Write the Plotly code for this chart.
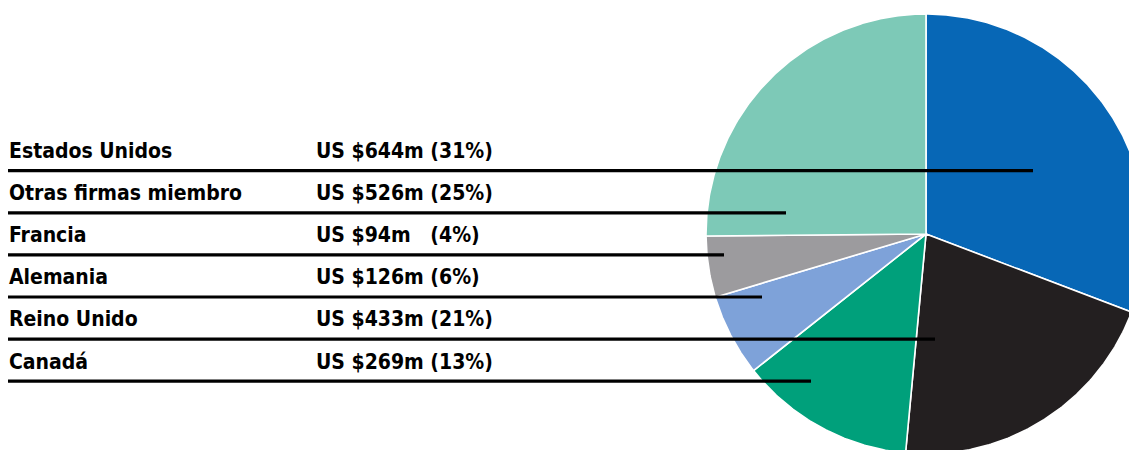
import math
import plotly.graph_objects as go

# ---------------- data ----------------
regions = ["Estados Unidos", "Otras firmas miembro", "Francia", "Alemania", "Reino Unido", "Canadá"]
values_musd = [644, 526, 94, 126, 433, 269]
pct_labels = [31, 25, 4, 6, 21, 13]
value_labels = ["US $644m (31%)", "US $526m (25%)", "US $94m\u00a0\u00a0\u00a0(4%)",
                "US $126m (6%)", "US $433m (21%)", "US $269m (13%)"]
# clockwise order of slices starting at 12 o'clock
pie_order = ["Estados Unidos", "Reino Unido", "Canadá", "Alemania", "Francia", "Otras firmas miembro"]

# ---------------- style ----------------
colors = {
    "Estados Unidos": "#0767b6",
    "Reino Unido": "#231f20",
    "Canadá": "#00a07b",
    "Alemania": "#7ea2d9",
    "Francia": "#9c9b9e",
    "Otras firmas miembro": "#7dc9b7",
}
W, H = 1137, 450
OFF = 8  # page body margin: axis ranges shifted so coordinates equal screen pixels
CX, CY, R = 926, 234, 220
row_y0, row_dy = 151, 42.1
label_x, value_x = 10, 316
line_x0 = 5
leader_end_x = [1033, 786, 724, 762, 935, 811]
FONT = "DejaVu Sans Condensed, Liberation Sans Narrow, Arial Narrow, sans-serif"
FS = 21

fig = go.Figure()

total = sum(values_musd)
start = 0.0
for name in pie_order:
    v = values_musd[regions.index(name)]
    span = v / total * 2 * math.pi
    n = max(4, int(span * 120))
    xs, ys = [CX], [CY]
    for k in range(n + 1):
        a = start + span * k / n
        xs.append(CX + R * math.sin(a))
        ys.append(CY - R * math.cos(a))
    xs.append(CX)
    ys.append(CY)
    fig.add_trace(go.Scatter(
        x=xs, y=ys, mode="lines", fill="toself",
        fillcolor=colors[name], line=dict(color="white", width=1.6),
        name=name, hoverinfo="name", showlegend=False,
    ))
    start += span

for i, (name, vl) in enumerate(zip(regions, value_labels)):
    ty = row_y0 + i * row_dy
    fig.add_annotation(x=label_x, y=ty, xref="x", yref="y", text="<b>" + name + "</b>",
                       showarrow=False, xanchor="left", yanchor="middle", xshift=-3,
                       font=dict(family=FONT, size=FS, color="black"))
    fig.add_annotation(x=value_x, y=ty, xref="x", yref="y", text="<b>" + vl + "</b>",
                       showarrow=False, xanchor="left", yanchor="middle", xshift=-2,
                       font=dict(family=FONT, size=FS, color="black"))
    ly = ty + 19.7
    fig.add_shape(type="line", xref="paper", yref="y",
                  x0=(line_x0 - OFF) / W, x1=(leader_end_x[i] - OFF) / W, y0=ly, y1=ly,
                  line=dict(color="black", width=3.2))

fig.update_layout(
    width=W, height=H,
    margin=dict(l=0, r=0, t=0, b=0),
    paper_bgcolor="white", plot_bgcolor="white",
    xaxis=dict(range=[OFF, W + OFF], visible=False, fixedrange=True),
    yaxis=dict(range=[H + OFF, OFF], visible=False, fixedrange=True),
    showlegend=False,
)

fig.write_html("out.html")
